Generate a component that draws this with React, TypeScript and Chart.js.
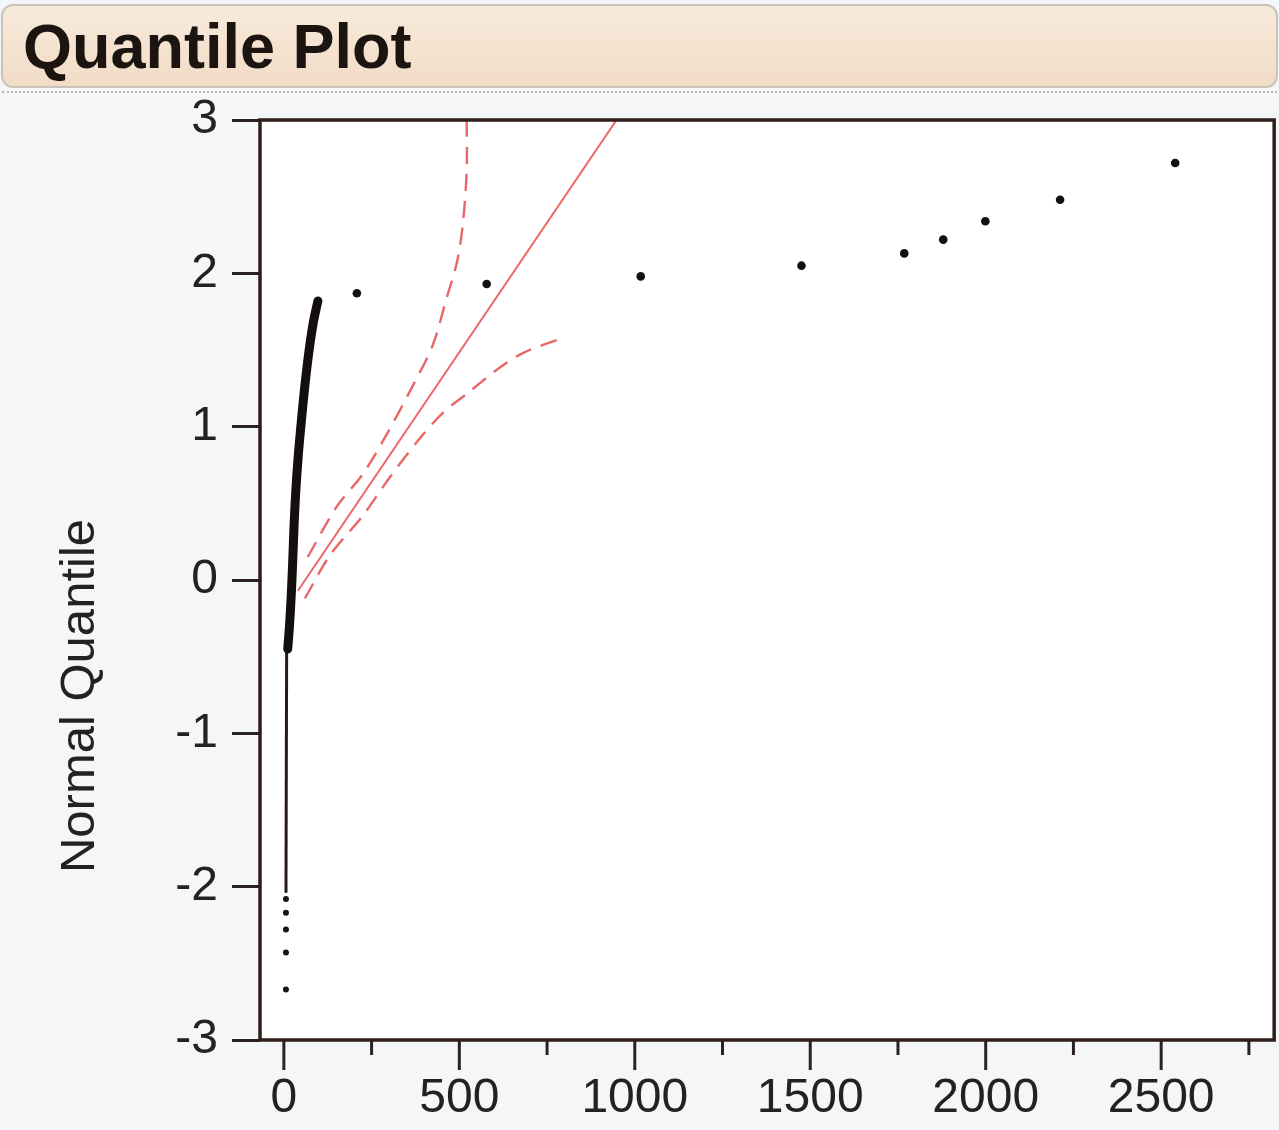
import React, { useEffect, useRef } from "react";
import { Chart, registerables } from "chart.js";

Chart.register(...registerables);

// Dense body of the sample (thick black run of points)
const denseX = [11, 16, 21, 25, 29, 34, 41, 50, 60, 72, 84, 97];
const denseY = [-0.45, -0.3, -0.1, 0.11, 0.35, 0.58, 0.81, 1.04, 1.27, 1.5, 1.68, 1.82];
// Thin lower run of points
const lowRunX = [8, 6];
const lowRunY = [-0.4, -2.04];
// Separate lowest points
const lowDotsX = [6, 6, 6, 6, 6];
const lowDotsY = [-2.08, -2.17, -2.28, -2.43, -2.67];
// Upper outliers
const outlierX = [208, 578, 1017, 1475, 1768, 1879, 1999, 2212, 2540];
const outlierY = [1.87, 1.93, 1.98, 2.05, 2.13, 2.22, 2.34, 2.48, 2.72];
// Fitted normal line
const fitX = [40, 948];
const fitY = [-0.07, 3.0];
// Confidence bands
const upperBandX = [68, 151, 225, 293, 359, 424, 464, 493, 510, 521, 521];
const upperBandY = [0.15, 0.48, 0.69, 0.95, 1.23, 1.53, 1.84, 2.07, 2.32, 2.67, 3.0];
const lowerBandX = [60, 131, 225, 302, 379, 453, 530, 606, 681, 795];
const lowerBandY = [-0.12, 0.16, 0.42, 0.67, 0.9, 1.09, 1.23, 1.37, 1.48, 1.58];

const xTickValues = [0, 250, 500, 750, 1000, 1250, 1500, 1750, 2000, 2250, 2500, 2750];
const xLabelValues = [0, 500, 1000, 1500, 2000, 2500];
const yTickValues = [-3, -2, -1, 0, 1, 2, 3];
const xMin = -68;
const xMax = 2822;
const yMin = -3;
const yMax = 3;

const titleText = "Quantile Plot";
const yTitleText = "Normal Quantile";

const FONT = "'Liberation Sans', Arial, sans-serif";
const FRAME = "#2e1d19";
const RED = "rgba(232, 90, 90, 0.92)";

const zip = (xs: number[], ys: number[]) => xs.map((x, i) => ({ x, y: ys[i] }));

const framePlugin = {
  id: "framePlugin",
  beforeDraw(chart: any) {
    const { ctx, chartArea, width, height } = chart;
    ctx.save();
    ctx.fillStyle = "#f5f6f8";
    ctx.fillRect(0, 0, width, height);
    ctx.fillStyle = "#ffffff";
    ctx.fillRect(chartArea.left, chartArea.top, chartArea.right - chartArea.left, chartArea.bottom - chartArea.top);
    ctx.restore();
  },
  afterDraw(chart: any) {
    const { ctx, chartArea } = chart;
    const xs = chart.scales.x;
    ctx.save();
    // x tick marks
    ctx.strokeStyle = "#2a2220";
    ctx.lineWidth = 3;
    xTickValues.forEach((v) => {
      const px = xs.getPixelForValue(v);
      const len = xLabelValues.includes(v) ? 30 : 15;
      ctx.beginPath();
      ctx.moveTo(px, chartArea.bottom);
      ctx.lineTo(px, chartArea.bottom + len);
      ctx.stroke();
    });
    // frame
    ctx.strokeStyle = FRAME;
    ctx.lineWidth = 3.5;
    ctx.strokeRect(chartArea.left, chartArea.top, chartArea.right - chartArea.left, chartArea.bottom - chartArea.top);
    // y title
    ctx.translate(80, 696);
    ctx.rotate(-Math.PI / 2);
    ctx.fillStyle = "#222222";
    ctx.font = `49px ${FONT}`;
    ctx.textAlign = "center";
    ctx.textBaseline = "middle";
    ctx.fillText(yTitleText, 0, 0);
    ctx.restore();
  },
};

function QuantileChart() {
  const ref = useRef<HTMLCanvasElement | null>(null);
  useEffect(() => {
    if (!ref.current) return;
    const chart = new Chart(ref.current, {
      type: "scatter",
      data: {
        datasets: [
          {
            label: "upper band",
            data: zip(upperBandX, upperBandY),
            showLine: true,
            borderColor: RED,
            borderWidth: 2.4,
            borderDash: [17, 10],
            pointRadius: 0,
            tension: 0.3,
          },
          {
            label: "lower band",
            data: zip(lowerBandX, lowerBandY),
            showLine: true,
            borderColor: RED,
            borderWidth: 2.4,
            borderDash: [17, 10],
            pointRadius: 0,
            tension: 0.3,
          },
          {
            label: "fit",
            data: zip(fitX, fitY),
            showLine: true,
            borderColor: RED,
            borderWidth: 2,
            pointRadius: 0,
          },
          {
            label: "dense",
            data: zip(denseX, denseY),
            showLine: true,
            borderColor: "#140e0c",
            borderWidth: 9,
            borderCapStyle: "round",
            pointRadius: 0,
            tension: 0.35,
          },
          {
            label: "low run",
            data: zip(lowRunX, lowRunY),
            showLine: true,
            borderColor: "#2a1a16",
            borderWidth: 3,
            pointRadius: 0,
          },
          {
            label: "low dots",
            data: zip(lowDotsX, lowDotsY),
            backgroundColor: "#1a1210",
            borderWidth: 0,
            pointRadius: 3,
          },
          {
            label: "outliers",
            data: zip(outlierX, outlierY),
            backgroundColor: "#141010",
            borderWidth: 0,
            pointRadius: 4.3,
          },
        ],
      },
      options: {
        animation: false,
        responsive: false,
        maintainAspectRatio: false,
        layout: { padding: { top: 120, right: 4, left: 0, bottom: 0 } },
        plugins: { legend: { display: false }, tooltip: { enabled: false }, title: { display: false } },
        scales: {
          x: {
            type: "linear",
            min: xMin,
            max: xMax,
            afterBuildTicks: (scale: any) => {
              scale.ticks = xTickValues.map((v) => ({ value: v }));
            },
            afterFit: (scale: any) => {
              scale.height = 90;
            },
            grid: { display: false, drawTicks: false },
            border: { display: false },
            ticks: {
              autoSkip: false,
              maxRotation: 0,
              padding: 30,
              color: "#222222",
              font: { family: FONT, size: 48 },
              callback: (v: any) => (xLabelValues.includes(Number(v)) ? String(v) : ""),
            },
          },
          y: {
            type: "linear",
            min: yMin,
            max: yMax,
            afterBuildTicks: (scale: any) => {
              scale.ticks = yTickValues.map((v) => ({ value: v }));
            },
            afterFit: (scale: any) => {
              scale.width = 260;
            },
            grid: {
              display: true,
              drawOnChartArea: false,
              drawTicks: true,
              tickLength: 28,
              tickWidth: 3,
              tickColor: "#2a2220",
              color: "#2a2220",
            },
            border: { display: false },
            ticks: {
              padding: 14,
              color: "#222222",
              font: { family: FONT, size: 48 },
              callback: (v: any) => String(v),
            },
          },
        },
      },
      plugins: [framePlugin],
    } as any);
    return () => chart.destroy();
  }, []);
  return <canvas ref={ref} width={1279} height={1130} style={{ position: "absolute", left: 0, top: 0, width: 1279, height: 1130 }} />;
}

export default function App() {
  return (
    <div style={{ position: "absolute", left: 0, top: 0, width: 1279, height: 1130, overflow: "hidden", background: "#f5f6f8" }}>
      <QuantileChart />
      <div
        style={{
          position: "absolute",
          left: 1,
          top: 4,
          width: 1273,
          height: 80,
          borderRadius: 12,
          border: "2px solid #cbc3bb",
          background: "linear-gradient(#f8eadb, #f1dcc6)",
          display: "flex",
          alignItems: "center",
          boxSizing: "content-box",
        }}
      >
        <span
          style={{
            fontFamily: FONT,
            fontWeight: "bold",
            fontSize: 63,
            color: "#1c1410",
            marginLeft: 20,
            lineHeight: 1,
          }}
        >
          {titleText}
        </span>
      </div>
      <div style={{ position: "absolute", left: 2, top: 91, width: 1275, borderTop: "2px dotted #bdb8b4" }} />
    </div>
  );
}
